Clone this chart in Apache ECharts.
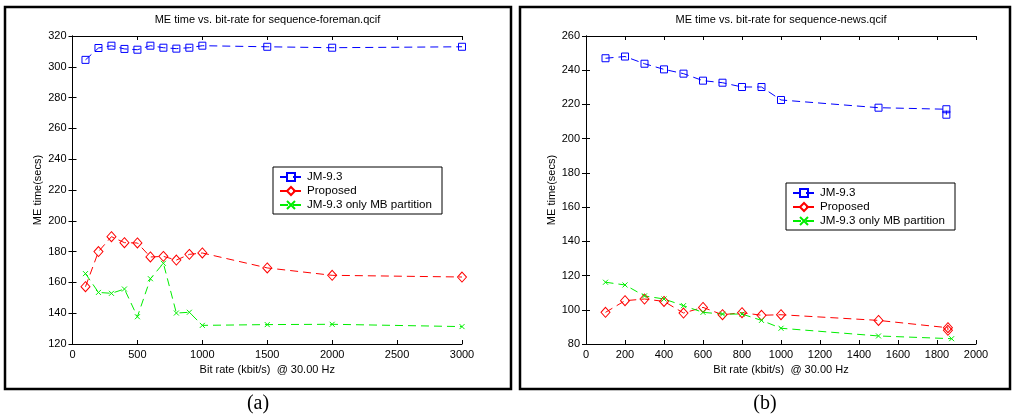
<!DOCTYPE html>
<html>
<head>
<meta charset="utf-8">
<script src="https://cdn.jsdelivr.net/npm/echarts@6/dist/echarts.min.js"></script>
<style>
  html, body { margin: 0; padding: 0; background: #fff; }
  #chart { width: 1014px; height: 420px; }
</style>
</head>
<body>
<div id="chart"></div>
<script>
// (a) foreman
var foremanRates = [100, 200, 300, 400, 500, 600, 700, 800, 900, 1000, 1500, 2000, 3000];
var foremanJM = [304.5, 312.2, 313.7, 311.6, 311.1, 313.7, 312.4, 311.8, 312.4, 313.7, 313, 312.4, 313];
var foremanProp = [157.2, 180, 189.7, 185.8, 185.6, 176.5, 176.9, 174.5, 178.2, 179.1, 169.4, 164.6, 163.5];
var foremanMB = [165.7, 153.5, 152.9, 155.7, 137.7, 162.4, 172.4, 140.1, 140.6, 132.1, 132.6, 132.8, 131.3];

// (b) news
var newsRatesJM = [100, 200, 300, 400, 500, 600, 700, 800, 900, 1000, 1500, 1848, 1848];
var newsJM = [247, 248, 243.8, 240.5, 238, 233.9, 232.7, 230.2, 230.2, 222.6, 218.1, 217.2, 214];
var newsRatesProp = [100, 200, 300, 400, 500, 600, 700, 800, 900, 1000, 1500, 1856, 1856];
var newsProp = [98.5, 105.3, 106.3, 104.9, 98.1, 101.4, 97.1, 98.3, 96.8, 97.1, 93.8, 89.5, 88];
var newsRatesMB = [100, 200, 300, 400, 500, 600, 700, 800, 900, 1000, 1500, 1875];
var newsMB = [116.1, 114.5, 108.1, 106.3, 102.4, 98.5, 97.5, 97.5, 93.8, 89.2, 84.7, 83.1];

var seriesNames = ['JM-9.3', 'Proposed', 'JM-9.3 only MB partition'];

function zip(xs, ys) {
    return xs.map(function (x, i) { return [x, ys[i]]; });
}

var font = 'Liberation Sans, Arial, sans-serif';
var crossPath = 'path://M0,0L10,10M10,0L0,10';

var styles = [
    { color: '#0000ff', symbol: 'rect', size: [7, 7] },
    { color: '#ff0000', symbol: 'diamond', size: [9, 10] },
    { color: '#00ee00', symbol: crossPath, size: [5, 5] }
];

function makeSeries(idx, data, gi) {
    var s = styles[idx];
    return {
        name: seriesNames[idx],
        type: 'line',
        xAxisIndex: gi * 2,
        yAxisIndex: gi * 2,
        data: data,
        symbol: s.symbol,
        symbolSize: s.size,
        showAllSymbol: true,
        itemStyle: { color: 'rgba(0,0,0,0)', borderColor: s.color, borderWidth: 1 },
        lineStyle: { color: s.color, width: 1, type: [8, 5] },
        emphasis: { disabled: true }
    };
}

function boxAxes(gi, min, max, interval, isX) {
    var main = {
        type: 'value',
        gridIndex: gi,
        min: min,
        max: max,
        interval: interval,
        position: isX ? 'bottom' : 'left',
        axisLine: { show: true, lineStyle: { color: '#000', width: 1 } },
        axisTick: { show: true, inside: true, length: 4, lineStyle: { color: '#000' } },
        axisLabel: {
            color: '#000', fontSize: 11, fontFamily: font, margin: isX ? 5 : 6,
            formatter: function (v) { return String(v); }
        },
        splitLine: { show: false }
    };
    var opp = {
        type: 'value',
        gridIndex: gi,
        min: min,
        max: max,
        interval: interval,
        position: isX ? 'top' : 'right',
        axisLine: { show: true, lineStyle: { color: '#000', width: 1 } },
        axisTick: { show: true, inside: true, length: 4, lineStyle: { color: '#000' } },
        axisLabel: { show: false },
        splitLine: { show: false }
    };
    if (isX) {
        main.name = 'Bit rate (kbit/s)  @ 30.00 Hz';
        main.nameLocation = 'middle';
        main.nameGap = 17;
    } else {
        main.name = 'ME time(secs)';
        main.nameLocation = 'middle';
        main.nameGap = 29;
    }
    main.nameTextStyle = { color: '#000', fontSize: 11, fontFamily: font };
    return [main, opp];
}

function legend(left, top) {
    return {
        data: seriesNames,
        orient: 'vertical',
        left: left,
        top: top,
        itemWidth: 22,
        itemHeight: 10,
        itemGap: 0,
        padding: [3, 10, 2, 6],
        backgroundColor: '#fff',
        borderColor: '#000',
        borderWidth: 1,
        borderRadius: 0,
        selectedMode: false,
        textStyle: { color: '#000', fontSize: 11.6, fontFamily: font, lineHeight: 14 }
    };
}

var chart = echarts.init(document.getElementById('chart'), null, { renderer: 'canvas' });

chart.setOption({
    animation: false,
    backgroundColor: '#fff',
    grid: [
        { left: 72.5, top: 36, width: 389.5, height: 308 },
        { left: 586, top: 36, width: 390, height: 308 }
    ],
    xAxis: boxAxes(0, 0, 3000, 500, true).concat(boxAxes(1, 0, 2000, 200, true)),
    yAxis: boxAxes(0, 120, 320, 20, false).concat(boxAxes(1, 80, 260, 20, false)),
    legend: [legend(273, 167), legend(786, 183)],
    series: [
        makeSeries(0, zip(foremanRates, foremanJM), 0),
        makeSeries(1, zip(foremanRates, foremanProp), 0),
        makeSeries(2, zip(foremanRates, foremanMB), 0),
        makeSeries(0, zip(newsRatesJM, newsJM), 1),
        makeSeries(1, zip(newsRatesProp, newsProp), 1),
        makeSeries(2, zip(newsRatesMB, newsMB), 1)
    ],
    graphic: [
        { type: 'rect', shape: { x: 5, y: 7, width: 506, height: 382 }, style: { fill: 'none', stroke: '#000', lineWidth: 2.5 }, z: -1 },
        { type: 'rect', shape: { x: 520, y: 7, width: 490, height: 382 }, style: { fill: 'none', stroke: '#000', lineWidth: 2.5 }, z: -1 },
        { type: 'text', x: 267.5, y: 20, style: { text: 'ME time vs. bit-rate for sequence-foreman.qcif', fill: '#000', font: '11px ' + font, align: 'center', verticalAlign: 'middle' } },
        { type: 'text', x: 781, y: 20, style: { text: 'ME time vs. bit-rate for sequence-news.qcif', fill: '#000', font: '11px ' + font, align: 'center', verticalAlign: 'middle' } },
        { type: 'text', x: 258, y: 404, style: { text: '(a)', fill: '#000', font: '20px Liberation Serif, Times New Roman, serif', align: 'center', verticalAlign: 'middle' } },
        { type: 'text', x: 765, y: 404, style: { text: '(b)', fill: '#000', font: '20px Liberation Serif, Times New Roman, serif', align: 'center', verticalAlign: 'middle' } }
    ]
});
</script>
</body>
</html>
